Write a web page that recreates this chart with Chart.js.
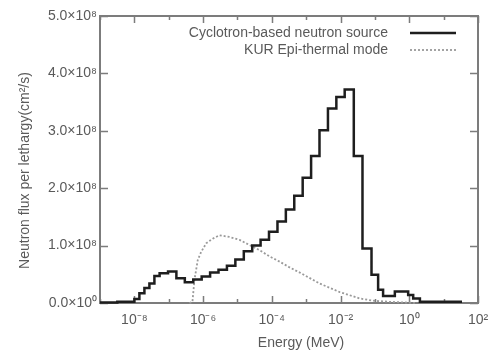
<!DOCTYPE html>
<html>
<head>
<meta charset="utf-8">
<script src="https://cdn.jsdelivr.net/npm/chart.js@4.4.0/dist/chart.umd.min.js"></script>
<style>
  html, body { margin: 0; padding: 0; background: #fff; }
  #wrap { width: 490px; height: 354px; }
</style>
</head>
<body>
<div id="wrap"><canvas id="fluxChart"></canvas></div>
<script>
// Cyclotron-based source: histogram bin edges (MeV) and flux per bin (x1e8)
const cycEdges = [1.0e-9, 3.19e-9, 1.0e-8, 1.40e-8, 1.96e-8, 2.74e-8, 3.83e-8, 5.43e-8, 9.55e-8,
  1.67e-7, 2.94e-7, 5.18e-7, 9.10e-7, 1.60e-6, 2.81e-6, 4.94e-6, 8.69e-6, 1.53e-5, 2.69e-5,
  4.71e-5, 8.28e-5, 1.46e-4, 2.56e-4, 4.50e-4, 7.91e-4, 1.39e-3, 2.44e-3, 4.30e-3, 7.55e-3,
  1.32e-2, 2.43e-2, 4.35e-2, 7.96e-2, 0.124, 0.173, 0.380, 0.929, 1.30, 2.04, 34.2];
const cycFlux = [0.01, 0.02, 0.07, 0.17, 0.26, 0.34, 0.47, 0.52, 0.55, 0.43, 0.36, 0.41, 0.46,
  0.53, 0.58, 0.65, 0.76, 0.90, 1.00, 1.10, 1.24, 1.42, 1.63, 1.87, 2.18, 2.56, 3.01, 3.39,
  3.59, 3.72, 2.56, 0.95, 0.49, 0.23, 0.12, 0.20, 0.14, 0.08, 0.02];

// KUR epi-thermal mode spectrum (MeV, x1e8)
const kurEnergy = [4.0e-7, 4.9e-7, 5.6e-7, 7.0e-7, 8.8e-7, 1.23e-6, 1.9e-6, 3.0e-6, 5.9e-6,
  1.15e-5, 2.24e-5, 4.4e-5, 8.7e-5, 1.7e-4, 3.3e-4, 6.5e-4, 2.45e-3, 9.5e-3, 3.6e-2, 8.7e-2,
  0.275, 1.66];
const kurFlux = [0, 0.02, 0.40, 0.75, 0.89, 1.04, 1.12, 1.18, 1.15, 1.10, 1.01, 0.92, 0.81,
  0.72, 0.62, 0.53, 0.34, 0.19, 0.08, 0.04, 0.02, 0.0];

// axis ticks
const xTickExp = [-9, -8, -7, -6, -5, -4, -3, -2, -1, 0, 1, 2];
const yTickVals = [0, 1, 2, 3, 4, 5];   // x1e8

const FLUX_UNIT = 1e8;
const X_TITLE = 'Energy (MeV)';
const Y_TITLE = 'Neutron flux per lethargy(cm²/s)';
const TEXT_COLOR = '#5a5a5a';
const FRAME_COLOR = '#7c7c7c';
const FONT = "'Liberation Sans', Arial, sans-serif";

const SUP = { '-': '⁻', '0': '⁰', '1': '¹', '2': '²', '3': '³', '4': '⁴', '5': '⁵', '6': '⁶', '7': '⁷', '8': '⁸', '9': '⁹' };
const sup = s => String(s).split('').map(c => SUP[c] || c).join('');

// histogram -> step points (value held until next edge)
function stepPoints(edges, vals) {
  const pts = vals.map((v, i) => ({ x: edges[i], y: v * FLUX_UNIT }));
  pts.push({ x: edges[edges.length - 1], y: vals[vals.length - 1] * FLUX_UNIT });
  return pts;
}

// frame, inward ticks, axis titles, legend (gnuplot look)
const gnuplotFrame = {
  id: 'gnuplotFrame',
  beforeDatasetsDraw(chart) {
    const { ctx, chartArea: a, scales: { x, y } } = chart;
    ctx.save();
    ctx.strokeStyle = FRAME_COLOR;
    ctx.lineWidth = 2;
    ctx.strokeRect(a.left, a.top, a.right - a.left, a.bottom - a.top);
    ctx.lineWidth = 1.5;
    ctx.beginPath();
    xTickExp.forEach(e => {
      const px = Math.round(x.getPixelForValue(Math.pow(10, e))) + 0.5;
      const len = e % 2 === 0 ? 7 : 4;
      ctx.moveTo(px, a.bottom); ctx.lineTo(px, a.bottom - len);
      ctx.moveTo(px, a.top); ctx.lineTo(px, a.top + len);
    });
    yTickVals.forEach(v => {
      const py = Math.round(y.getPixelForValue(v * FLUX_UNIT)) + 0.5;
      ctx.moveTo(a.left, py); ctx.lineTo(a.left + 8, py);
      ctx.moveTo(a.right, py); ctx.lineTo(a.right - 8, py);
    });
    ctx.stroke();
    ctx.restore();
  },
  afterDraw(chart) {
    const { ctx, chartArea: a } = chart;
    ctx.save();
    ctx.fillStyle = TEXT_COLOR;
    ctx.font = '14px ' + FONT;
    ctx.textAlign = 'center';
    ctx.textBaseline = 'middle';
    ctx.fillText(X_TITLE, (a.left + a.right) / 2 + 12, 343);
    ctx.translate(25, (a.top + a.bottom) / 2 + 11);
    ctx.rotate(-Math.PI / 2);
    ctx.fillText(Y_TITLE, 0, 0);
    ctx.restore();

    // legend: text right-aligned, sample line on the right
    ctx.save();
    ctx.font = '14px ' + FONT;
    ctx.textAlign = 'right';
    ctx.textBaseline = 'middle';
    chart.data.datasets.forEach((ds, i) => {
      const ly = 33 + i * 17;
      ctx.fillStyle = TEXT_COLOR;
      ctx.fillText(ds.label, 388, ly);
      ctx.strokeStyle = ds.borderColor;
      ctx.lineWidth = ds.borderWidth;
      ctx.setLineDash(ds.borderDash || []);
      ctx.beginPath();
      ctx.moveTo(410, ly); ctx.lineTo(456, ly);
      ctx.stroke();
    });
    ctx.restore();
  }
};

new Chart(document.getElementById('fluxChart'), {
  type: 'line',
  data: {
    datasets: [
      {
        label: 'Cyclotron-based neutron source',
        data: stepPoints(cycEdges, cycFlux),
        stepped: 'before',
        borderColor: '#1e1e1e',
        borderWidth: 2.5,
        pointRadius: 0,
        fill: false,
        clip: 4
      },
      {
        label: 'KUR Epi-thermal mode',
        data: kurEnergy.map((e, i) => ({ x: e, y: kurFlux[i] * FLUX_UNIT })),
        borderColor: '#9a9a9a',
        borderWidth: 1.8,
        borderDash: [2, 2],
        pointRadius: 0,
        tension: 0,
        fill: false,
        clip: 4
      }
    ]
  },
  options: {
    responsive: true,
    maintainAspectRatio: false,
    animation: false,
    layout: { padding: { top: 16, right: 12, left: 0, bottom: 0 } },
    plugins: { legend: { display: false }, tooltip: { enabled: false } },
    scales: {
      x: {
        type: 'logarithmic',
        min: 1e-9,
        max: 1e2,
        afterBuildTicks: s => { s.ticks = xTickExp.map(e => ({ value: Math.pow(10, e) })); },
        afterFit: s => { s.height = 51; s.paddingLeft = 0; s.paddingRight = 0; },
        ticks: {
          autoSkip: false,
          maxRotation: 0,
          padding: 9,
          color: TEXT_COLOR,
          font: { family: FONT, size: 14 },
          callback: v => {
            const e = Math.round(Math.log10(v));
            return e % 2 === 0 ? '10' + sup(e) : '';
          }
        },
        grid: { drawOnChartArea: false, drawTicks: false },
        border: { display: false }
      },
      y: {
        min: 0,
        max: 5 * FLUX_UNIT,
        afterBuildTicks: s => { s.ticks = yTickVals.map(v => ({ value: v * FLUX_UNIT })); },
        afterFit: s => { s.width = 100; s.paddingTop = 0; s.paddingBottom = 0; },
        ticks: {
          padding: 3,
          color: TEXT_COLOR,
          font: { family: FONT, size: 14 },
          callback: v => (v / FLUX_UNIT).toFixed(1) + '×10' + sup(v === 0 ? 0 : 8)
        },
        grid: { drawOnChartArea: false, drawTicks: false },
        border: { display: false }
      }
    }
  },
  plugins: [gnuplotFrame]
});
</script>
</body>
</html>
